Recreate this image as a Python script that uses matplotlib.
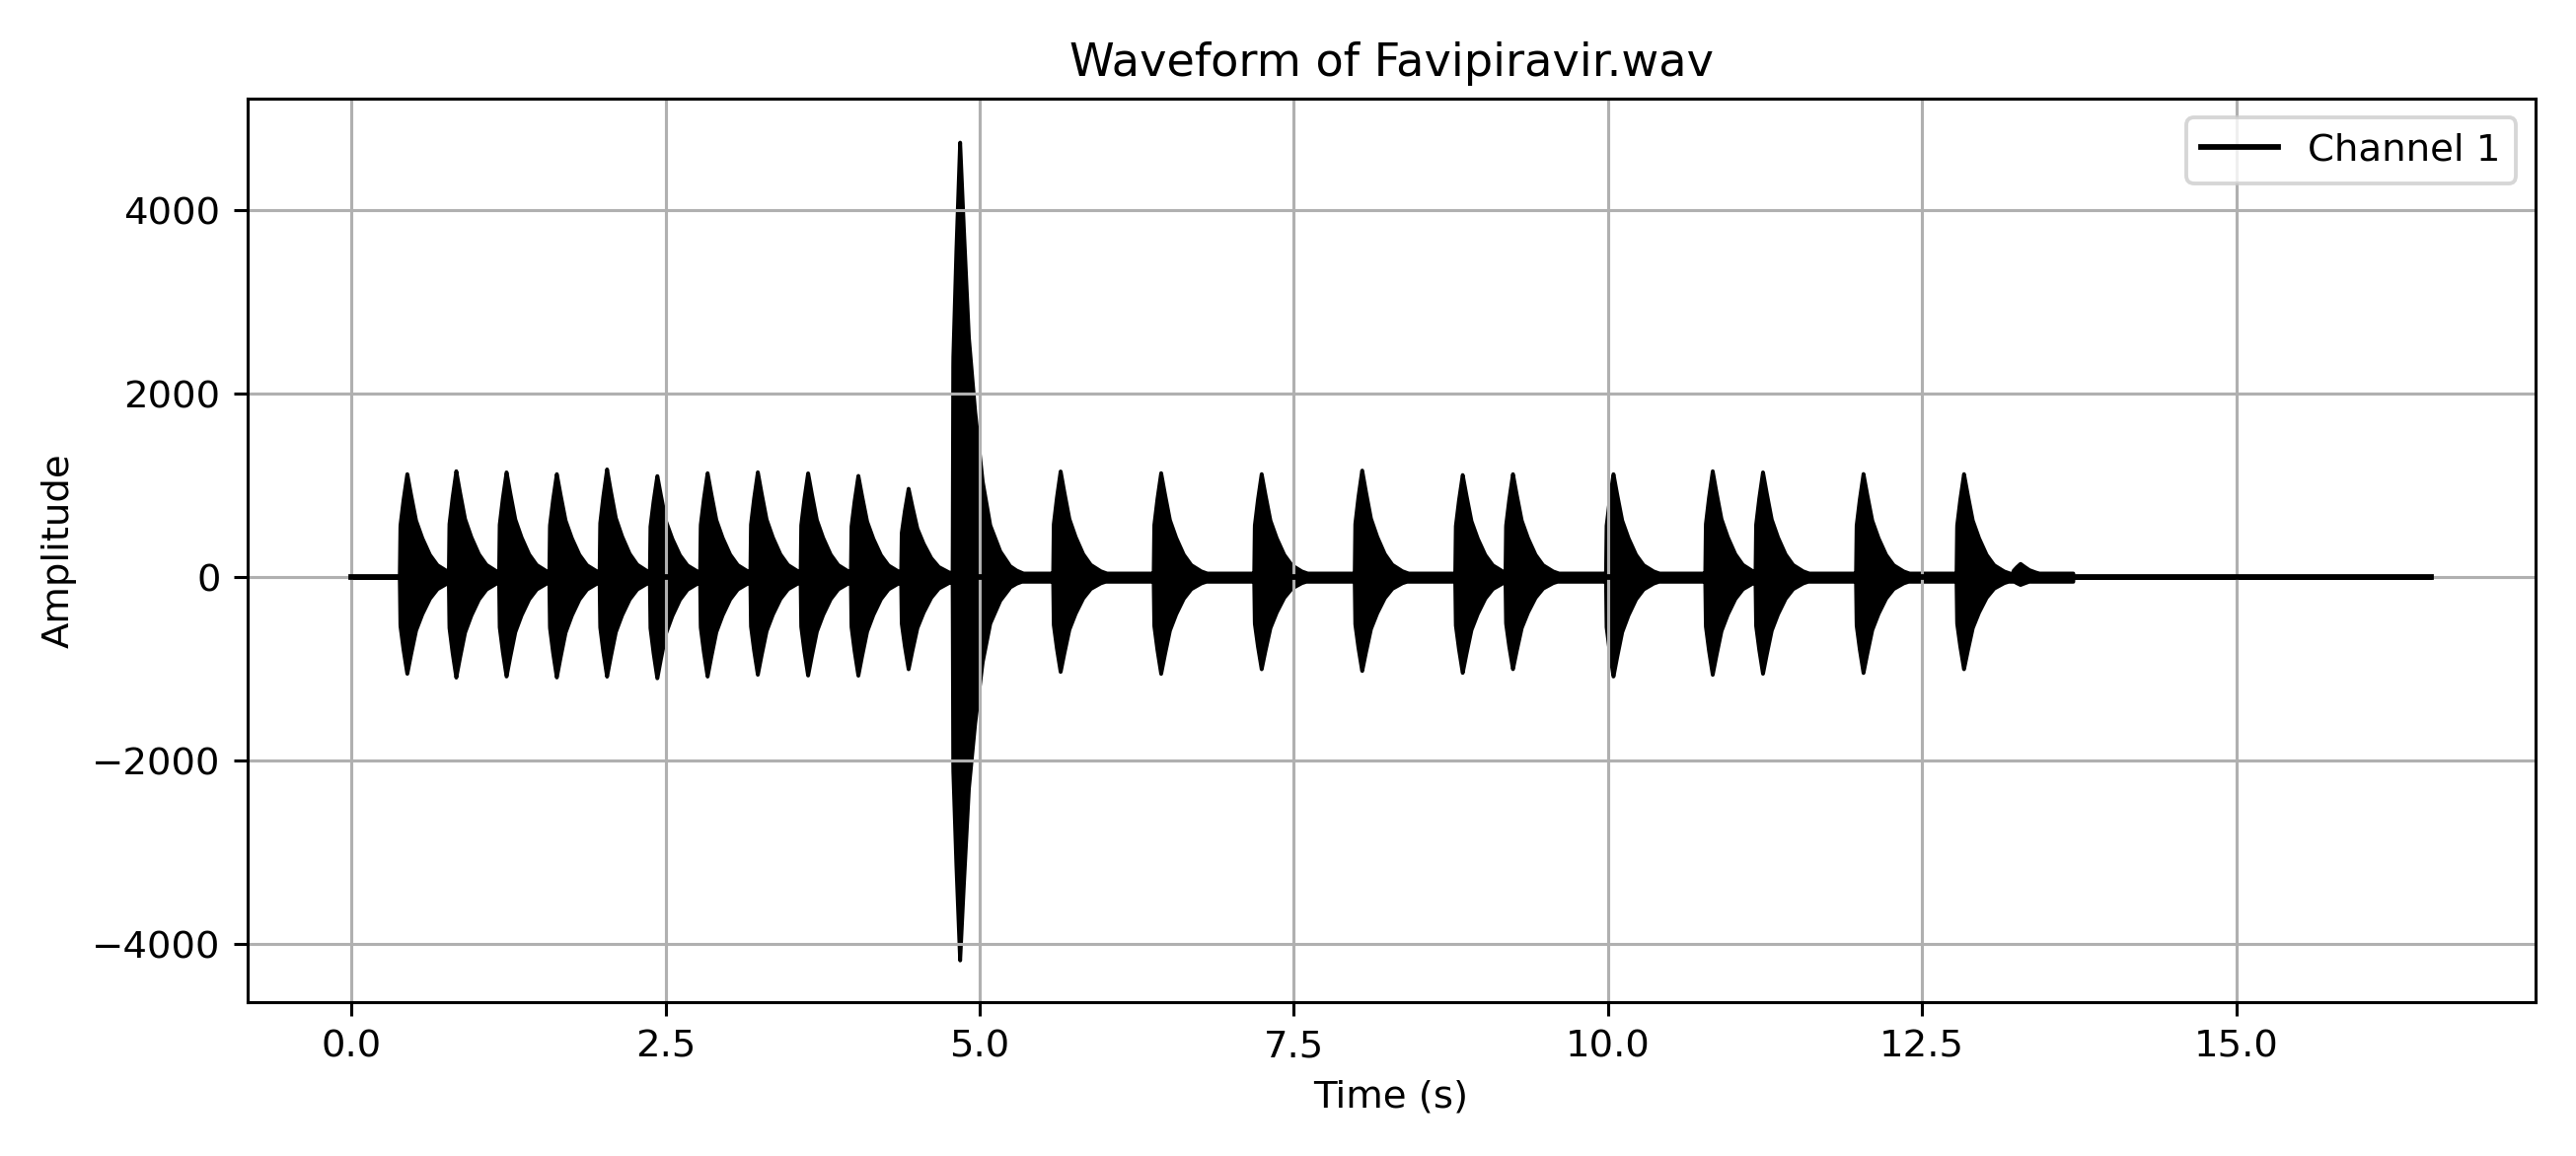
import numpy as np
import matplotlib.pyplot as plt

# Burst onsets (s) and envelope peaks
onsets = [0.38, 0.77, 1.17, 1.57, 1.97, 2.37, 2.77, 3.17, 3.57, 3.97, 4.37, 4.78, 5.05,
          5.58, 6.38, 7.18, 7.98, 8.78, 9.18, 9.98, 10.77, 11.17, 11.97, 12.77, 13.22]
pos_peaks = [1130, 1160, 1150, 1130, 1180, 1110, 1140, 1150, 1140, 1110, 970, 4750, 350,
             1160, 1140, 1130, 1170, 1120, 1130, 1130, 1160, 1150, 1130, 1130, 150]
neg_peaks = [-1050, -1090, -1080, -1090, -1080, -1100, -1080, -1060, -1070, -1070, -1000, -4180, -300,
             -1030, -1050, -1000, -1020, -1040, -1000, -1080, -1060, -1050, -1040, -1000, -80]
# shared decay profile (offset in s, fraction of peak) read from a typical burst
decay_t = [0.0, 0.005, 0.03, 0.06, 0.09, 0.13, 0.18, 0.24, 0.3, 0.38, 0.45]
decay_f = [0.0, 0.5, 0.75, 1.0, 0.8, 0.55, 0.38, 0.22, 0.12, 0.06, 0.03]
# low-level noise floor between bursts after the large event
floor_start, floor_end, floor_amp = 4.78, 13.7, 45
duration = 16.55

t = np.linspace(0, duration, 20000)
upper = np.zeros_like(t)
lower = np.zeros_like(t)
for on, p, n in zip(onsets, pos_peaks, neg_peaks):
    f = np.interp(t - on, decay_t, decay_f, left=0, right=0)
    upper = np.maximum(upper, f * p)
    lower = np.minimum(lower, f * n)
in_floor = (t >= floor_start) & (t <= floor_end)
upper[in_floor] = np.maximum(upper[in_floor], floor_amp)
lower[in_floor] = np.minimum(lower[in_floor], -floor_amp)

fig, ax = plt.subplots(figsize=(9.4, 4.22), dpi=277.8)
ax.fill_between(t, lower, upper, color="black", lw=1.0)
ax.plot([0, duration], [0, 0], color="black", lw=1.5, label="Channel 1")
ax.set_title("Waveform of Favipiravir.wav")
ax.set_xlabel("Time (s)")
ax.set_ylabel("Amplitude")
ax.grid(True)
ax.legend(loc="upper right")
ax.set_xlim(-0.83, 17.38)
ax.set_ylim(-4630, 5220)
fig.tight_layout()
fig.savefig("out.png", dpi=277.8)
